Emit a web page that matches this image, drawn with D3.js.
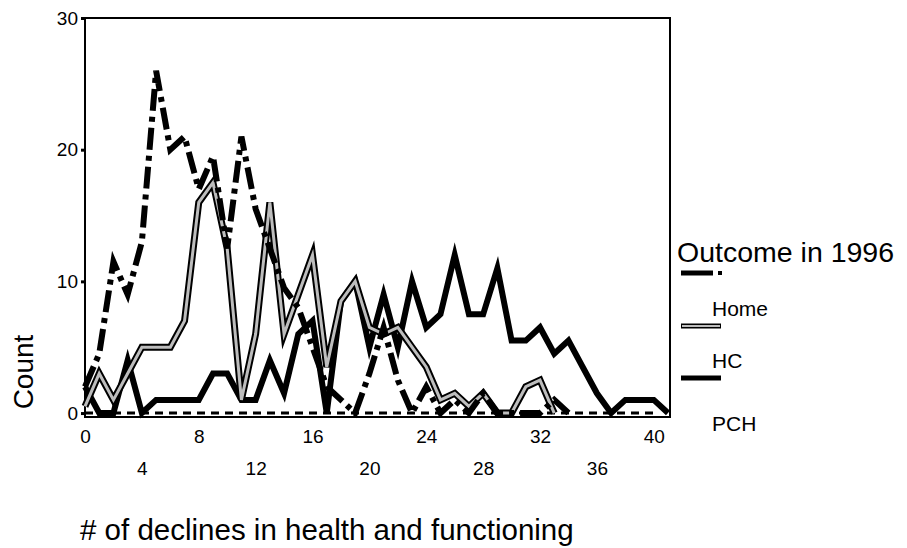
<!DOCTYPE html>
<html>
<head>
<meta charset="utf-8">
<script src="https://d3js.org/d3.v7.min.js"></script>
<style>
  body { margin: 0; background: #fff; }
  text { font-family: Arial, "Liberation Sans", sans-serif; fill: #000; }
</style>
</head>
<body>
<div id="chart-area"></div>
<script>
// # of declines (x) and counts per outcome
var declines = [0,1,2,3,4,5,6,7,8,9,10,11,12,13,14,15,16,17,18,19,20,
                21,22,23,24,25,26,27,28,29,30,31,32,33,34,35,36,37,38,39,40,41];
var home = [2,4.5,11.5,9,13,26,20,21,17,19.5,12.5,21,15.5,12.5,9.5,8,5,2,1,0,
            3,6.5,2.5,0,2,0,1,0,1.5,0,0,0,0,1,0];
var hc = [0.5,3,1,3,5,5,5,7,16,17.5,12.5,1,6,16,6,9,12,3.5,8.5,10,
          6.5,6,6.5,5,3.5,1,1.5,0.5,1.5,0,0,2,2.5,0];
var pch = [2,0,0,4,0,1,1,1,1,3,3,1,1,4,1.5,6,7,0,8.5,10,
           5,9,5,10,6.5,7.5,12,7.5,7.5,11,5.5,5.5,6.5,4.5,5.5,3.5,1.5,0,1,1,1,0];
var other = [0,0,0,0,0,0,0,0,0,0,0,0,0,0,0,0,0,0,0,0,0,
             0,0,0,0,0,0,0,0,0,0,0,0,0,0,0,0,0,0,0,0];

var xTicksRow1 = [0,8,16,24,32,40];
var xTicksRow2 = [4,12,20,28,36];
var yTicks = [0,10,20,30];
var legendNames = ["Home","HC","PCH"];

var width = 907;
var height = 548;
var svg = d3.select("#chart-area").append("svg")
    .attr("width", width)
    .attr("height", height);

var x = d3.scaleLinear().domain([0, 41]).range([85, 668]);
var y = d3.scaleLinear().domain([-0.3, 30]).range([417, 18]);

// frame
svg.append("rect")
    .attr("x", 85).attr("y", 18)
    .attr("width", 670 - 85).attr("height", 417 - 18)
    .attr("fill", "none")
    .attr("stroke", "#000")
    .attr("stroke-width", 2);

// y axis
var leftAxis = d3.axisLeft(y).tickValues(yTicks).tickSize(4).tickPadding(3);
var gy = svg.append("g")
    .attr("transform", "translate(85,0)")
    .call(leftAxis);
gy.select(".domain").remove();
gy.selectAll(".tick line").attr("stroke-width", 3);
gy.selectAll("text").attr("font-size", "19px");

// x axis, two staggered rows of labels
var row1 = svg.append("g")
    .attr("transform", "translate(0,417)")
    .call(d3.axisBottom(x).tickValues(xTicksRow1).tickSize(0).tickPadding(13));
var row2 = svg.append("g")
    .attr("transform", "translate(0,417)")
    .call(d3.axisBottom(x).tickValues(xTicksRow2).tickSize(0).tickPadding(45));
[row1, row2].forEach(function(g) {
    g.select(".domain").remove();
    g.selectAll("text").attr("font-size", "19px");
});

// lines
function pts(vals) {
    return vals.map(function(v, i) { return [declines[i], v]; });
}
var line = d3.line()
    .defined(function(d) { return d[1] != null; })
    .x(function(d) { return x(d[0]); })
    .y(function(d) { return y(d[1]); });

var plot = svg.append("g")
    .attr("fill", "none")
    .attr("stroke-linejoin", "miter")
    .attr("stroke-miterlimit", 5);

plot.append("path")
    .attr("d", line(pts(other)))
    .attr("stroke", "#000")
    .attr("stroke-width", 3)
    .attr("stroke-dasharray", "8,6");

plot.append("path")
    .attr("d", line(pts(pch)))
    .attr("stroke", "#000")
    .attr("stroke-width", 6);

plot.append("path")
    .attr("d", line(pts(hc)))
    .attr("stroke", "#000")
    .attr("stroke-width", 7);
plot.append("path")
    .attr("d", line(pts(hc)))
    .attr("stroke", "#bdbdbd")
    .attr("stroke-width", 3);

plot.append("path")
    .attr("d", line(pts(home)))
    .attr("stroke", "#000")
    .attr("stroke-width", 6)
    .attr("stroke-dasharray", "22,6,5,6");

// axis titles
svg.append("text")
    .attr("transform", "translate(33,372) rotate(-90)")
    .attr("text-anchor", "middle")
    .attr("font-size", "28px")
    .text("Count");
svg.append("text")
    .attr("x", 80)
    .attr("y", 540)
    .attr("font-size", "29.5px")
    .text("# of declines in health and functioning");

// legend
var legend = svg.append("g");
legend.append("text")
    .attr("x", 677).attr("y", 262)
    .attr("font-size", "28.5px")
    .text("Outcome in 1996");

legend.append("line")
    .attr("x1", 681).attr("x2", 713).attr("y1", 273).attr("y2", 273)
    .attr("stroke", "#000").attr("stroke-width", 5);
legend.append("line")
    .attr("x1", 718).attr("x2", 722).attr("y1", 273).attr("y2", 273)
    .attr("stroke", "#000").attr("stroke-width", 4);

legend.append("line")
    .attr("x1", 681).attr("x2", 721).attr("y1", 326).attr("y2", 326)
    .attr("stroke", "#000").attr("stroke-width", 5);
legend.append("line")
    .attr("x1", 682).attr("x2", 720).attr("y1", 326).attr("y2", 326)
    .attr("stroke", "#bdbdbd").attr("stroke-width", 2);

legend.append("line")
    .attr("x1", 681).attr("x2", 721).attr("y1", 378).attr("y2", 378)
    .attr("stroke", "#000").attr("stroke-width", 5);

var labelY = [316, 368, 431];
legend.selectAll(".lab").data(legendNames).enter()
    .append("text")
    .attr("class", "lab")
    .attr("x", 712)
    .attr("y", function(d, i) { return labelY[i]; })
    .attr("font-size", "21px")
    .text(function(d) { return d; });
</script>
</body>
</html>
